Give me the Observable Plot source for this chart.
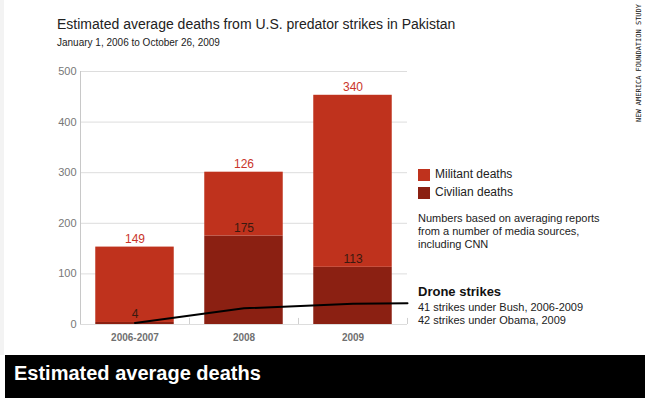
<!DOCTYPE html>
<html>
<head>
<meta charset="utf-8">
<script src="https://cdn.jsdelivr.net/npm/d3@7"></script>
<script src="https://cdn.jsdelivr.net/npm/@observablehq/plot@0.6"></script>
<style>
  html, body { margin: 0; padding: 0; background: #fff; }
  body { font-family: "Liberation Sans", Arial, sans-serif; }
  #wrap { position: relative; width: 645px; height: 398px; overflow: hidden; background: #fff; }
  #wrap > * { position: absolute; }
  #edge { left: 0; top: 0; width: 4px; height: 355px; background: #f3f3f3; }
  #title { left: 57px; top: 16px; font-size: 14px; color: #222; white-space: nowrap; }
  #subtitle { left: 57px; top: 37px; font-size: 10px; color: #222; white-space: nowrap; }
  #chart { left: 0; top: 0; }
  .sw { width: 12px; height: 12px; }
  .leg { font-size: 12px; color: #222; white-space: nowrap; }
  .note { font-size: 11px; color: #222; line-height: 12.8px; white-space: nowrap; }
  #drone { font-size: 13px; font-weight: bold; color: #111; white-space: nowrap; }
  #bar { left: 5px; top: 355px; width: 640px; height: 43px; background: #000; }
  #bartext { left: 14px; top: 362px; color: #fff; font-family: "Liberation Sans", Arial, sans-serif; font-weight: bold; font-size: 20px; white-space: nowrap; }
  #vert { left: 636px; top: 122px; transform-origin: 0 0; transform: rotate(-90deg); font-family: "DejaVu Sans Mono", monospace; font-size: 7px; color: #111; white-space: nowrap; line-height: 7px; }
</style>
</head>
<body>
<div id="wrap">
  <div id="edge"></div>
  <div id="title">Estimated average deaths from U.S. predator strikes in Pakistan</div>
  <div id="subtitle">January 1, 2006 to October 26, 2009</div>
  <div id="chart"></div>
  <div class="sw" id="sw1" style="left:418px;top:169px;"></div>
  <div class="leg" style="left:435px;top:167px;">Militant deaths</div>
  <div class="sw" id="sw2" style="left:418px;top:187px;"></div>
  <div class="leg" style="left:435px;top:185px;">Civilian deaths</div>
  <div class="note" style="left:418px;top:212px;">Numbers based on averaging reports<br>from a number of media sources,<br>including CNN</div>
  <div id="drone" style="left:418px;top:284px;">Drone strikes</div>
  <div class="note" style="left:418px;top:301px;">41 strikes under Bush, 2006-2009<br>42 strikes under Obama, 2009</div>
  <div id="bar"></div>
  <div id="bartext">Estimated average deaths</div>
  <div id="vert">NEW AMERICA FOUNDATION STUDY</div>
</div>
<script>
// ---- data ----
const categories = ["2006-2007", "2008", "2009"];
const militantDeaths = [149, 126, 340];
const civilianDeaths = [4, 175, 113];
// drone strikes line: value at each period, then its end value at the right edge
const droneStrikes = [3, 32, 41];
const droneStrikesEnd = 42;
const yTicks = [0, 100, 200, 300, 400, 500];

// ---- styles ----
const militantColor = "#bf321d";
const civilianColor = "#8b2012";
const militantLabel = "#c9352a";
const civilianLabel = "#3a1a10";

document.getElementById("sw1").style.background = militantColor;
document.getElementById("sw2").style.background = civilianColor;

const rows = categories.map((c, i) => ({
  i, c,
  militant: militantDeaths[i],
  civilian: civilianDeaths[i],
  total: militantDeaths[i] + civilianDeaths[i]
}));
const pad = 0.14;
const line = droneStrikes.map((v, i) => ({x: i + 0.5, y: v}))
  .concat([{x: categories.length, y: droneStrikesEnd}]);
const boundaries = d3.range(1, categories.length + 1);

const chart = Plot.plot({
  width: 645,
  height: 350,
  marginLeft: 80,
  marginRight: 238,
  marginTop: 71,
  marginBottom: 26,
  style: {fontFamily: "'Liberation Sans', Arial, sans-serif", background: "transparent", overflow: "visible"},
  x: {domain: [0, categories.length], label: null},
  y: {domain: [0, 500], label: null},
  marks: [
    Plot.gridY(yTicks, {stroke: "#dddddd", strokeOpacity: 1}),
    Plot.ruleX([0], {stroke: "#c8c8c8"}),
    Plot.ruleX(boundaries, {y1: 0, y2: 12, stroke: "#d0d0d0"}),
    Plot.rectY(rows, {x1: d => d.i + pad, x2: d => d.i + 1 - pad, y1: 0, y2: "civilian", fill: civilianColor}),
    Plot.rectY(rows, {x1: d => d.i + pad, x2: d => d.i + 1 - pad, y1: "civilian", y2: "total", fill: militantColor}),
    Plot.line(line, {x: "x", y: "y", stroke: "#000", strokeWidth: 2, curve: "linear"}),
    Plot.text(rows, {x: d => d.i + 0.5, y: "total", text: d => String(d.militant), dy: -4, lineAnchor: "bottom", fill: militantLabel, fontSize: 12}),
    Plot.text(rows, {x: d => d.i + 0.5, y: "civilian", text: d => String(d.civilian), dy: -4, lineAnchor: "bottom", fill: civilianLabel, fontSize: 12}),
    Plot.axisY(yTicks, {tickSize: 0, tickPadding: 4, fontSize: 11, fill: "#777", label: null}),
    Plot.axisX(categories.map((c, i) => i + 0.5), {tickSize: 0, tickPadding: 9, fontSize: 10, fontWeight: "bold", fill: "#707070", tickFormat: d => categories[Math.floor(d)], label: null})
  ]
});
document.getElementById("chart").appendChild(chart);
</script>
</body>
</html>
